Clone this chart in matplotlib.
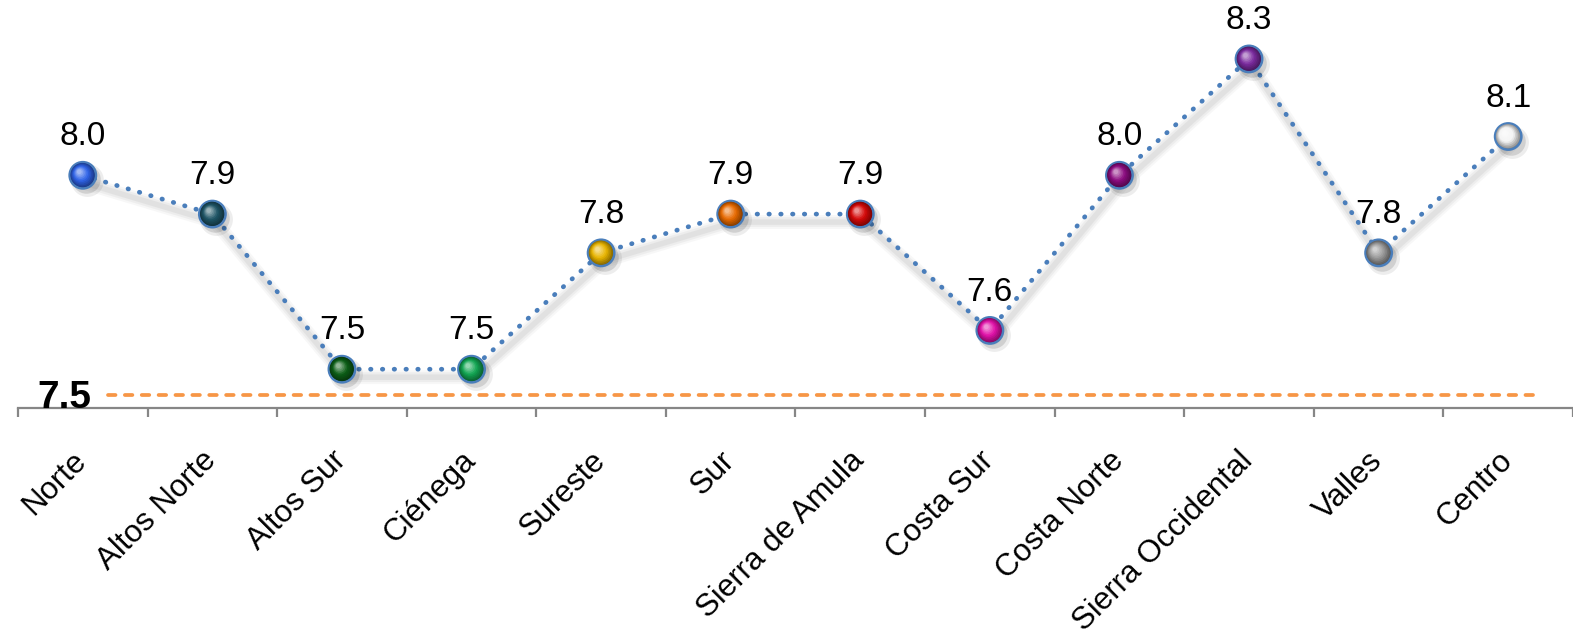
import numpy as np
import matplotlib
matplotlib.use("Agg")
import matplotlib.pyplot as plt
from matplotlib import transforms, colors as mcolors

plt.rcParams["font.family"] = ["Liberation Sans", "DejaVu Sans"]

# ── 데이터 ─────────────────────────────────────────────
regiones = ["Norte", "Altos Norte", "Altos Sur", "Ciénega", "Sureste", "Sur",
            "Sierra de Amula", "Costa Sur", "Costa Norte", "Sierra Occidental",
            "Valles", "Centro"]
valores = [8.0, 7.9, 7.5, 7.5, 7.8, 7.9, 7.9, 7.6, 8.0, 8.3, 7.8, 8.1]
colores = ["#2f63e8", "#1f5566", "#0c5e16", "#12a552", "#e8b400", "#e86a00",
           "#d40808", "#e010a8", "#8c0c80", "#7a2a9e", "#9a9a9a", "#f4f4f4"]
referencia = 7.5

LINE = "#4a7ebb"
ORANGE = "#f79646"
AXIS = "#868686"

W, H = 1573, 632
fig = plt.figure(figsize=(W / 100, H / 100), dpi=100)
ax = fig.add_axes([18 / W, 224 / H, 1555 / W, 408 / H])
x = np.arange(len(regiones))


def shift(dx, dy):
    return transforms.offset_copy(ax.transData, fig=fig, x=dx, y=dy, units="dots")


def mix(c, other, t):
    a = np.array(mcolors.to_rgb(c))
    b = np.array(mcolors.to_rgb(other))
    return tuple(np.clip(a * (1 - t) + b * t, 0, 1))


# sombra difusa de la línea + línea punteada
for lw, a in [(10, 0.06), (7, 0.08), (4, 0.10)]:
    ax.plot(x, valores, color="#808080", lw=lw, alpha=a, transform=shift(3, -8),
            solid_capstyle="round", zorder=2)
ax.plot(x, valores, color=LINE, lw=3.4, linestyle=(0, (0.1, 2.4)),
        dash_capstyle="round", zorder=3)

# esferas: sombra, borde, degradado
S = 360
ax.scatter(x, valores, s=560, color="#000000", alpha=0.07, lw=0,
           transform=shift(4, -5), zorder=4)
ax.scatter(x, valores, s=420, color="#000000", alpha=0.12, lw=0,
           transform=shift(3, -4), zorder=4)
ax.scatter(x, valores, s=S, c=[mix(c, "black", 0.45) for c in colores],
           edgecolors=LINE, linewidths=1.8, zorder=5)
n = 9
for k in range(1, n + 1):
    t = k / n
    if t < 0.5:
        cols = [mix(c, "black", 0.45 * (1 - 2 * t)) for c in colores]
    else:
        cols = [mix(c, "white", 0.55 * (t - 0.5) * 2) for c in colores]
    ax.scatter(x, valores, s=S * (1 - 0.82 * t) ** 2, c=cols, lw=0,
               transform=shift(-3.5 * t, 3.5 * t), zorder=5 + k)

for xi, v in zip(x, valores):
    ax.annotate(f"{v:.1f}", (xi, v), xytext=(0, 21.5), textcoords="offset points",
                ha="center", va="baseline", fontsize=24, zorder=20)

ax.set_xlim(-0.5, len(regiones) - 0.5)
ax.set_ylim(7.4, 8.452)
ax.set_yticks([])
for s in ["top", "left", "right"]:
    ax.spines[s].set_visible(False)
ax.spines["bottom"].set_color(AXIS)
ax.spines["bottom"].set_linewidth(1.6)

ax.set_xticks(x)
ax.set_xticklabels(regiones, rotation=45, ha="right", va="top",
                   rotation_mode="anchor", fontsize=22.5)
ax.tick_params(axis="x", which="major", length=0, pad=27)
nudge = transforms.ScaledTranslation(-11 / 100, 0, fig.dpi_scale_trans)
for lab in ax.get_xticklabels():
    lab.set_transform(lab.get_transform() + nudge)
ax.set_xticks(np.arange(-0.5, len(regiones), 1.0), minor=True)
ax.tick_params(axis="x", which="minor", length=6.5, width=1.6, color=AXIS)

# línea de referencia en eje secundario
ax2 = ax.twinx()
ax2.set_ylim(7.4, 7.4 + 0.1 * 408 / 13.5)
ax2.axis("off")
ax2.axhline(referencia, xmin=90 / 1555, xmax=1522 / 1555, color=ORANGE, lw=2.7,
            linestyle=(0, (2.0, 2.5)), dash_capstyle="round")
ax2.annotate(f"{referencia:.1f}", (-0.5, referencia), xytext=(73, -3),
             textcoords="offset pixels", ha="right", va="center",
             fontsize=28, fontweight="bold")

fig.savefig("out.png", dpi=100)
